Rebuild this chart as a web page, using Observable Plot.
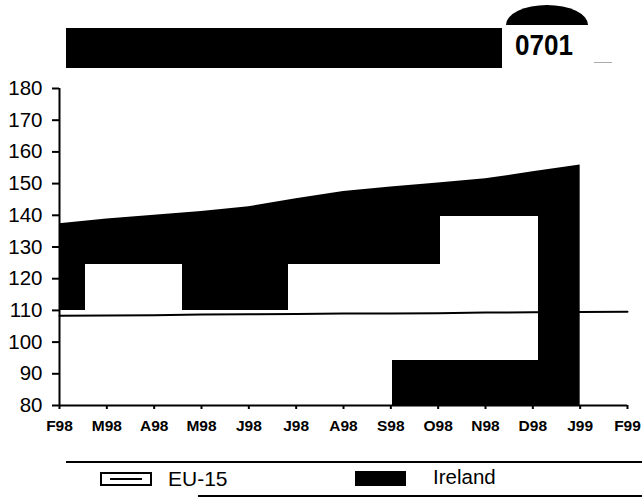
<!DOCTYPE html>
<html><head><meta charset="utf-8">
<script src="https://cdn.jsdelivr.net/npm/d3@7"></script>
<script src="https://cdn.jsdelivr.net/npm/@observablehq/plot@0.6"></script>
<style>
body{margin:0;background:#fff;font-family:"Liberation Sans",Arial,sans-serif;}
#wrap{position:relative;width:642px;height:498px;overflow:hidden;background:#fff;}
#chart{position:absolute;left:0;top:70px;}
.abs{position:absolute;}
</style>
</head><body>
<div id="wrap">
  <div class="abs" style="left:66px;top:28px;width:436px;height:40px;background:#000;"></div>
  <div class="abs" style="left:506px;top:5px;width:82px;height:20px;background:#000;border-radius:41px 41px 0 0 / 20px 20px 0 0;"></div>
  <svg class="abs" style="left:505px;top:26px;" width="80" height="36"><text x="10" y="29" font-size="30" font-weight="bold" font-family="Liberation Sans, Arial, sans-serif" textLength="58" lengthAdjust="spacingAndGlyphs">0701</text></svg>
  <div class="abs" style="left:594px;top:62px;width:18px;height:1px;background:#aaa;"></div>
  <div id="chart"></div>
  <div class="abs" style="left:66px;top:461px;width:576px;height:2px;background:#000;"></div>
  <div class="abs" style="left:198px;top:495px;width:444px;height:2px;background:#000;"></div>
  <svg class="abs" style="left:100px;top:472px;" width="52" height="14"><rect x="1" y="1" width="50" height="12" fill="#fff" stroke="#000" stroke-width="2"/><line x1="10" x2="42" y1="7" y2="7" stroke="#000" stroke-width="2"/></svg>
  <div class="abs" style="left:168px;top:467px;font-size:21px;">EU-15</div>
  <div class="abs" style="left:355px;top:471px;width:51px;height:15px;background:#000;"></div>
  <div class="abs" style="left:433px;top:465px;font-size:20.5px;">Ireland</div>
</div>
<script>
const months = ["F98","M98","A98","M98","J98","J98","A98","S98","O98","N98","D98","J99","F99"];
const ireland = [137.3,138.8,140.0,141.2,142.7,145.2,147.5,148.9,150.2,151.5,153.7,155.9];
const eu15 = [108.3,108.4,108.5,108.7,108.8,108.9,109.0,109.0,109.1,109.3,109.4,109.5,109.6];
const yTicks = [80,90,100,110,120,130,140,150,160,170,180];
// white (unshaded) parts inside the Ireland band, in month index / index units
const gapX1 = [0, 0.54, 4.83, 7.03, 8.05];
const gapX2 = [7.03, 2.59, 8.05, 10.12, 10.12];
const gapY1 = [80, 110, 110, 94.2, 110];
const gapY2 = [110, 124.5, 124.5, 110, 139.6];

const irl = ireland.map((v, i) => ({i, v}));
const eu = eu15.map((v, i) => ({i, v}));
const gaps = gapX1.map((x1, k) => ({x1, x2: gapX2[k], y1: gapY1[k], y2: gapY2[k]}));

const chart = Plot.plot({
  width: 642, height: 375,
  marginLeft: 59, marginRight: 15, marginTop: 18, marginBottom: 40,
  x: {domain: [0, 12]},
  y: {domain: [80, 180]},
  style: {fontFamily: '"Liberation Sans", Arial, sans-serif', background: "#fff", color: "#000", overflow: "visible"},
  marks: [
    Plot.areaY(irl, {x: "i", y1: () => 80, y2: "v", fill: "#000"}),
    Plot.rect(gaps, {x1: "x1", x2: "x2", y1: "y1", y2: "y2", fill: "#fff", shapeRendering: "crispEdges"}),
    Plot.lineY(eu, {x: "i", y: "v", stroke: "#000", strokeWidth: 2}),
    Plot.ruleX([0], {y1: 80, y2: 180, stroke: "#000", strokeWidth: 2}),
    Plot.ruleY([80], {x1: 0, x2: 12, stroke: "#000", strokeWidth: 2}),
    Plot.axisY({ticks: yTicks, tickSize: 7, tickPadding: 10, fontSize: 20.5, tickFormat: d => String(d), label: null, strokeWidth: 2}),
    Plot.axisX({ticks: d3.range(months.length), tickFormat: i => months[i], tickSize: 4, tickPadding: 10, fontSize: 15.5, fontWeight: "bold", label: null, strokeWidth: 2})
  ]
});
document.getElementById("chart").appendChild(chart);
</script>
</body></html>
